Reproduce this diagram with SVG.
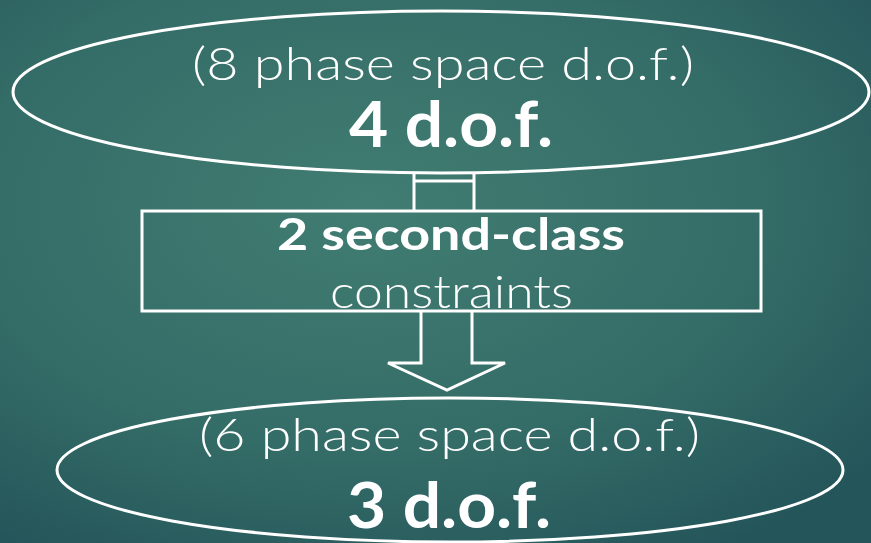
<svg xmlns="http://www.w3.org/2000/svg" width="871" height="543" viewBox="0 0 871 543">
  <defs>
    <radialGradient id="bg" cx="0.42" cy="0.38" r="0.75">
      <stop offset="0" stop-color="#417d72"/>
      <stop offset="0.6" stop-color="#346c67"/>
      <stop offset="1" stop-color="#24555a"/>
    </radialGradient>
  </defs>
  <style>
    .shape { fill: none; stroke: #ffffff; stroke-width: 3; }
    .light { font-family: Lato, "Open Sans", "Liberation Sans", sans-serif; font-weight: 300; fill: #ffffff; }
    .bold { font-family: Lato, "Open Sans", "Liberation Sans", sans-serif; font-weight: 700; fill: #ffffff; }
  </style>
  <rect x="0" y="0" width="871" height="543" fill="url(#bg)"/>
  <g id="connectors">
    <path class="shape" d="M414,173 L414,211 M474,173 L474,211 M414,181 L474,181"/>
    <polyline class="shape" points="421,311 421,363 388,363 447,390 505,363 472,363 472,311"/>
  </g>
  <g id="top-node">
    <ellipse class="shape" cx="441" cy="92" rx="428" ry="81"/>
    <text class="light" x="192" y="80" font-size="46" textLength="502" lengthAdjust="spacingAndGlyphs">(8 phase space d.o.f.)</text>
    <text class="bold" x="349" y="147" font-size="64" textLength="204" lengthAdjust="spacingAndGlyphs">4 d.o.f.</text>
  </g>
  <g id="middle-node">
    <rect class="shape" x="142" y="211" width="619" height="100"/>
    <text class="bold" x="277" y="250" font-size="44" textLength="348" lengthAdjust="spacingAndGlyphs">2 second-class</text>
    <text class="light" x="330" y="308" font-size="46" textLength="243" lengthAdjust="spacingAndGlyphs">constraints</text>
  </g>
  <g id="bottom-node">
    <ellipse class="shape" cx="450" cy="470" rx="393" ry="72"/>
    <text class="light" x="199" y="451" font-size="46" textLength="501" lengthAdjust="spacingAndGlyphs">(6 phase space d.o.f.)</text>
    <text class="bold" x="347" y="528" font-size="64" textLength="204" lengthAdjust="spacingAndGlyphs">3 d.o.f.</text>
  </g>
</svg>
